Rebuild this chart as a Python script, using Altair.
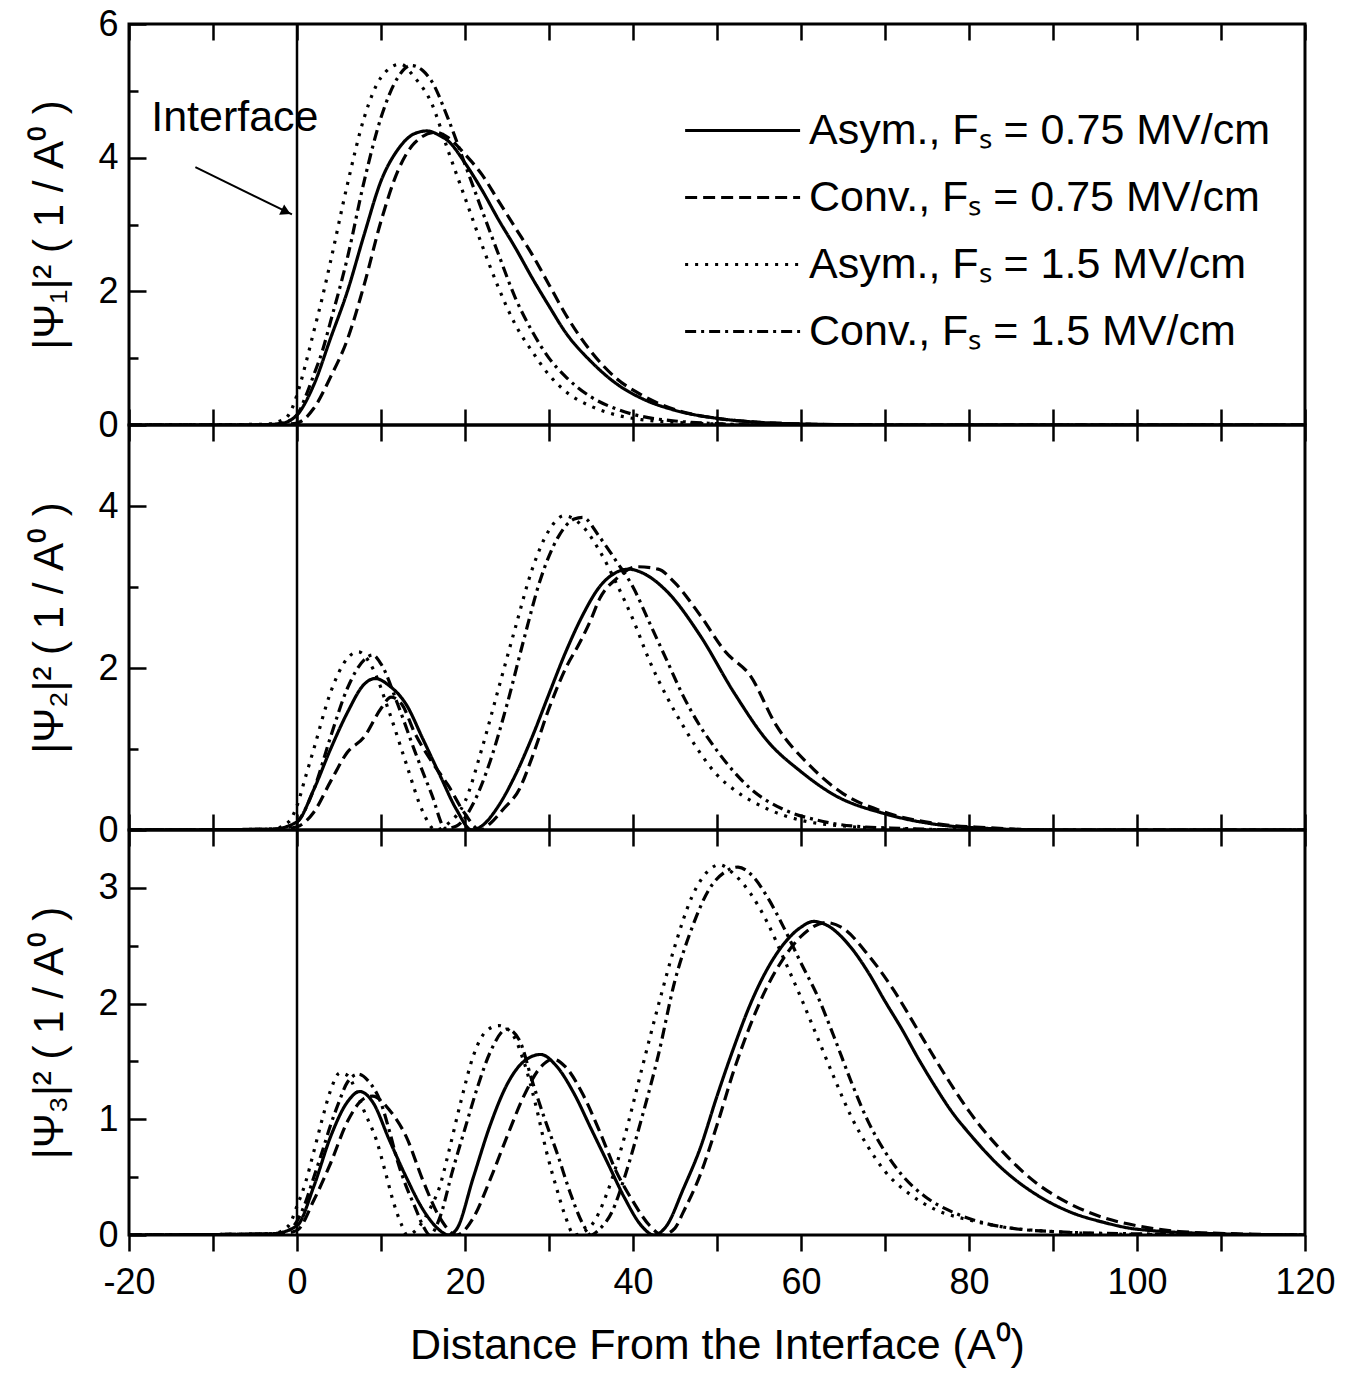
import altair as alt
import pandas as pd

FONT = "Liberation Sans, Arial, Helvetica, sans-serif"

X_DOMAIN = [-20, 120]
X_TICKS = [-20, -10, 0, 10, 20, 30, 40, 50, 60, 70, 80, 90, 100, 110, 120]

SERIES = ["Asym., Fₛ = 0.75 MV/cm", "Conv., Fₛ = 0.75 MV/cm",
          "Asym., Fₛ = 1.5 MV/cm", "Conv., Fₛ = 1.5 MV/cm"]
DASHES = [[1, 0], [12, 6], [3, 7], [11, 5, 3, 5]]

PANEL_YMAX = [6, 5, 3.5]
PANEL_MAJOR = [[0, 2, 4, 6], [0, 2, 4], [0, 1, 2, 3]]
PANEL_MINOR = [[1, 3, 5], [1, 3], [0.5, 1.5, 2.5]]
PANEL_TITLES = ["|Ψ₁|² ( 1 / A⁰ )", "|Ψ₂|² ( 1 / A⁰ )", "|Ψ₃|² ( 1 / A⁰ )"]
PANEL_HEIGHTS = [401, 405, 405]
X_TITLE = "Distance From the Interface (A⁰)"

INTERFACE_POS = [0]
INTERFACE_LABEL = ["Interface"]
INTERFACE_LABEL_X = [-7.4]
INTERFACE_LABEL_Y = [4.6]
ARROW_X = [-12.1]
ARROW_Y = [3.86]
ARROW_X2 = [-0.6]
ARROW_Y2 = [3.15]
ARROWHEAD_X = [-1.3]
ARROWHEAD_Y = [3.19]

# ---------------- Panel 1 : |Psi_1|^2 ----------------
P1_A075_X = [-20, -5, -2, 0, 2, 4, 6, 8, 10, 12, 14, 15.5, 17, 18, 20, 22, 24, 26, 28, 30, 32, 35, 38, 41, 45, 50, 55, 60, 70, 120]
P1_A075_Y = [0, 0, 0.02, 0.15, 0.6, 1.3, 2.0, 2.85, 3.65, 4.12, 4.36, 4.4, 4.33, 4.25, 3.92, 3.52, 3.07, 2.65, 2.2, 1.78, 1.38, 0.95, 0.62, 0.4, 0.22, 0.1, 0.04, 0.015, 0, 0]
P1_C075_X = [-20, -3, 0, 2, 4, 6, 8, 10, 12, 14, 16.5, 18, 20, 22, 24, 26, 28, 30, 32, 35, 38, 41, 45, 50, 55, 60, 70, 120]
P1_C075_Y = [0, 0, 0.03, 0.25, 0.72, 1.28, 2.1, 3.05, 3.8, 4.22, 4.38, 4.3, 4.05, 3.75, 3.35, 2.95, 2.55, 2.1, 1.65, 1.1, 0.7, 0.45, 0.23, 0.1, 0.04, 0.015, 0, 0]
P1_A15_X = [-20, -4, -2, -1, 0, 1, 2, 3, 4, 6, 8, 10, 12.3, 14, 16, 18, 20, 22, 24, 26, 28, 30, 32, 35, 38, 41, 45, 50, 55, 120]
P1_A15_Y = [0, 0.01, 0.06, 0.15, 0.45, 0.9, 1.4, 1.9, 2.45, 3.6, 4.6, 5.2, 5.4, 5.2, 4.82, 4.1, 3.4, 2.7, 2.05, 1.5, 1.1, 0.75, 0.5, 0.28, 0.15, 0.08, 0.04, 0.015, 0, 0]
P1_C15_X = [-20, -3, -2, 0, 1, 2, 3, 4, 6, 8, 10, 12, 13.6, 15, 16, 18, 20, 22, 24, 26, 28, 30, 32, 35, 38, 41, 45, 50, 55, 120]
P1_C15_Y = [0, 0, 0.02, 0.15, 0.42, 0.75, 1.1, 1.55, 2.5, 3.65, 4.6, 5.2, 5.38, 5.3, 5.15, 4.58, 3.9, 3.22, 2.55, 1.9, 1.4, 1.0, 0.72, 0.42, 0.24, 0.13, 0.06, 0.02, 0, 0]

# ---------------- Panel 2 : |Psi_2|^2 ----------------
P2_A075_X = [-20, -3, 0, 2, 4, 6, 8, 9.3, 11, 13, 15, 17, 19, 20.8, 22, 24, 26, 28, 30, 32, 34, 36, 38, 39.5, 41, 44, 48, 52, 56, 60, 64, 70, 76, 82, 90, 120]
P2_A075_Y = [0, 0.01, 0.1, 0.5, 1.0, 1.45, 1.8, 1.87, 1.78, 1.55, 1.12, 0.68, 0.25, 0.0, 0.05, 0.3, 0.68, 1.15, 1.68, 2.2, 2.65, 3.0, 3.18, 3.22, 3.18, 2.95, 2.4, 1.7, 1.1, 0.72, 0.43, 0.2, 0.07, 0.02, 0, 0]
P2_C075_X = [-20, -2, 0, 2, 4, 6, 8, 10, 11.2, 12.5, 14, 16, 18, 20, 21.8, 23, 24.5, 26.5, 28, 30, 32, 33.7, 35, 36, 38, 40.5, 43, 45, 48, 51, 54, 57, 61, 65, 70, 76, 82, 90, 120]
P2_C075_Y = [0, 0.01, 0.04, 0.22, 0.6, 0.96, 1.15, 1.5, 1.64, 1.55, 1.2, 0.85, 0.55, 0.2, 0.0, 0.08, 0.25, 0.51, 0.9, 1.5, 2.0, 2.32, 2.6, 2.85, 3.1, 3.25, 3.22, 3.05, 2.65, 2.2, 1.9, 1.3, 0.8, 0.45, 0.22, 0.08, 0.03, 0, 0]
P2_A15_X = [-20, -3, -1, 0, 1, 2, 4, 6, 7.3, 9, 11, 13, 15, 16.5, 18, 20, 22, 24, 26, 28, 30, 31.8, 34, 36, 38, 40, 42, 44, 46, 48, 50, 52, 56, 60, 65, 70, 80, 120]
P2_A15_Y = [0, 0.01, 0.1, 0.3, 0.65, 1.0, 1.7, 2.12, 2.2, 2.0, 1.45, 0.82, 0.22, 0.0, 0.08, 0.35, 1.0, 1.75, 2.5, 3.22, 3.7, 3.88, 3.75, 3.45, 3.05, 2.6, 2.08, 1.65, 1.28, 0.95, 0.68, 0.5, 0.26, 0.12, 0.05, 0.02, 0, 0]
P2_C15_X = [-20, -2, 0, 2, 4, 6, 8, 9, 10, 12, 14, 16, 17.7, 19, 21, 23, 25, 27, 29, 31, 33, 34, 36, 38, 40, 42, 44, 46, 48, 50, 52, 54, 58, 62, 66, 72, 80, 120]
P2_C15_Y = [0, 0.01, 0.1, 0.5, 1.15, 1.75, 2.1, 2.16, 2.05, 1.55, 0.98, 0.45, 0.02, 0.05, 0.33, 0.85, 1.55, 2.35, 3.1, 3.6, 3.84, 3.86, 3.62, 3.32, 3.0, 2.55, 2.1, 1.65, 1.28, 0.98, 0.72, 0.51, 0.25, 0.12, 0.05, 0.02, 0, 0]

# ---------------- Panel 3 : |Psi_3|^2 ----------------
P3_A075_X = [-20, -3, 0, 2, 4, 6, 7.5, 9, 11, 13, 15, 17, 18, 19, 21, 23, 25, 27, 29, 31, 33, 35, 37, 39, 41, 42.5, 44, 46, 48, 50, 52, 54, 56, 58, 60, 61.5, 63, 66, 68, 70, 72, 74, 76, 78, 80, 84, 88, 92, 96, 100, 110, 120]
P3_A075_Y = [0, 0.01, 0.08, 0.42, 0.85, 1.15, 1.24, 1.15, 0.82, 0.5, 0.22, 0.04, 0.0, 0.05, 0.5, 0.95, 1.3, 1.5, 1.56, 1.45, 1.22, 0.92, 0.62, 0.32, 0.08, 0.0, 0.08, 0.4, 0.75, 1.2, 1.62, 2.0, 2.3, 2.52, 2.66, 2.71, 2.68, 2.48, 2.27, 2.02, 1.78, 1.52, 1.28, 1.06, 0.88, 0.57, 0.35, 0.2, 0.11, 0.05, 0.01, 0]
P3_C075_X = [-20, -2, 0, 2, 4, 6, 8, 9, 11, 13, 15, 17, 19, 21, 23, 25, 27, 29, 30.5, 32, 34, 36, 38, 40, 42, 43.5, 45, 46, 48, 50, 52, 54, 56, 58, 60, 63, 65, 68, 71, 74, 77, 80, 84, 88, 92, 96, 100, 105, 112, 120]
P3_C075_Y = [0, 0.01, 0.04, 0.3, 0.62, 0.98, 1.18, 1.2, 1.08, 0.85, 0.47, 0.15, 0.0, 0.15, 0.48, 0.85, 1.2, 1.45, 1.52, 1.45, 1.22, 0.9, 0.55, 0.29, 0.08, 0.0, 0.06, 0.2, 0.52, 0.95, 1.42, 1.82, 2.15, 2.4, 2.58, 2.7, 2.65, 2.42, 2.12, 1.76, 1.4, 1.07, 0.72, 0.45, 0.27, 0.15, 0.08, 0.03, 0.01, 0]
P3_A15_X = [-20, -3, -1, 0, 1, 2, 3, 4, 5.1, 6, 7, 8, 9.5, 10.5, 11.5, 12.5, 13.1, 14, 15, 16, 17, 18, 19.5, 21, 22.5, 24, 25.5, 27, 28.5, 29.7, 31, 32, 33, 35, 37, 39, 41, 43, 45, 47, 49, 50.3, 52, 54, 56, 58, 60, 62, 64, 66, 68, 70, 73, 76, 80, 85, 90, 100, 120]
P3_A15_Y = [0, 0.01, 0.08, 0.25, 0.45, 0.72, 1.0, 1.25, 1.4, 1.38, 1.25, 1.07, 0.81, 0.55, 0.28, 0.08, 0.0, 0.03, 0.12, 0.25, 0.42, 0.7, 1.15, 1.55, 1.76, 1.81, 1.75, 1.5, 1.1, 0.72, 0.38, 0.15, 0.0, 0.08, 0.38, 0.85, 1.42, 1.98, 2.5, 2.92, 3.15, 3.2, 3.12, 2.95, 2.7, 2.38, 2.05, 1.7, 1.35, 1.02, 0.76, 0.55, 0.35, 0.22, 0.13, 0.06, 0.03, 0.005, 0]
P3_C15_X = [-20, -3, -1, 0, 1, 2, 3, 4, 5, 6, 7.3, 8.5, 10, 11, 12, 13, 14, 15, 15.8, 17, 18.5, 20, 21.5, 23, 25, 26.5, 28, 29.5, 31, 32.5, 34, 35, 36, 37.5, 39, 41, 43, 45, 47, 49, 51, 52.5, 54, 56, 58, 60, 62, 64, 66, 68, 70, 72, 75, 78, 82, 86, 90, 100, 120]
P3_C15_Y = [0, 0.01, 0.04, 0.12, 0.28, 0.5, 0.72, 0.95, 1.15, 1.32, 1.39, 1.33, 1.14, 0.9, 0.63, 0.42, 0.25, 0.08, 0.0, 0.15, 0.55, 0.92, 1.28, 1.58, 1.78, 1.68, 1.33, 1.0, 0.7, 0.37, 0.1, 0.0, 0.05, 0.2, 0.5, 1.0, 1.55, 2.2, 2.65, 2.98, 3.14, 3.18, 3.12, 2.92, 2.65, 2.35, 2.06, 1.7, 1.32, 0.98, 0.72, 0.52, 0.32, 0.2, 0.1, 0.05, 0.03, 0.01, 0]

X_LISTS = [[P1_A075_X, P1_C075_X, P1_A15_X, P1_C15_X],
           [P2_A075_X, P2_C075_X, P2_A15_X, P2_C15_X],
           [P3_A075_X, P3_C075_X, P3_A15_X, P3_C15_X]]
Y_LISTS = [[P1_A075_Y, P1_C075_Y, P1_A15_Y, P1_C15_Y],
           [P2_A075_Y, P2_C075_Y, P2_A15_Y, P2_C15_Y],
           [P3_A075_Y, P3_C075_Y, P3_A15_Y, P3_C15_Y]]


def make_df(i):
    rows = []
    for name, xs, ys in zip(SERIES, X_LISTS[i], Y_LISTS[i]):
        for xv, yv in zip(xs, ys):
            rows.append({"x": xv, "y": yv, "series": name})
    return pd.DataFrame(rows)


def x_axis_bottom(show_labels):
    kw = dict(orient="bottom", values=X_TICKS, tickSize=16, tickWidth=2.5, tickColor="black",
              domain=False, grid=False, labelFlush=False)
    if show_labels:
        kw.update(labels=True, labelExpr="datum.value % 20 == 0 ? '' + datum.value : ''",
                  labelFont=FONT, labelFontSize=36, labelColor="black", labelPadding=14,
                  labelOverlap=False,
                  titleFont=FONT, titleFontSize=43, titleFontWeight="normal",
                  titleColor="black", titlePadding=24)
    else:
        kw.update(labels=False)
    return alt.Axis(**kw)


def x_axis_top(inward):
    kw = dict(orient="top", values=X_TICKS, tickSize=16, tickWidth=2.5, tickColor="black",
              domain=False, grid=False, labels=False)
    if inward:
        kw["offset"] = -16
    return alt.Axis(**kw)


def y_major(i):
    return alt.Axis(orient="left", values=PANEL_MAJOR[i], tickSize=17, offset=-17, tickWidth=2.5,
                    tickColor="black", domain=False, grid=False,
                    labelExpr="'' + datum.value", labelFont=FONT, labelFontSize=36,
                    labelColor="black", labelPadding=11, labelOverlap=False,
                    titleFont=FONT, titleFontSize=42, titleFontWeight="normal",
                    titleColor="black", titlePadding=26)


def y_minor(i):
    return alt.Axis(orient="left", values=PANEL_MINOR[i], tickSize=9, offset=-9, tickWidth=2.5,
                    tickColor="black", domain=False, grid=False, labels=False)


def panel(i):
    xs = alt.Scale(domain=X_DOMAIN, nice=False, zero=False)
    ys = alt.Scale(domain=[0, PANEL_YMAX[i]], nice=False)
    df = make_df(i)

    if i == 0:
        dash = alt.StrokeDash(
            "series:N", scale=alt.Scale(domain=SERIES, range=DASHES),
            legend=alt.Legend(orient="none", legendX=549, legendY=85, title=None,
                              symbolType="M-1,0H7", symbolSize=826, symbolStrokeWidth=3,
                              symbolStrokeColor="black", labelFont=FONT, labelFontSize=43,
                              labelColor="black", labelOffset=88, labelLimit=900,
                              rowPadding=23))
    else:
        dash = alt.StrokeDash("series:N", scale=alt.Scale(domain=SERIES, range=DASHES),
                              legend=None)

    if i == 2:
        xenc = alt.X("x:Q", scale=xs, axis=x_axis_bottom(True), title=X_TITLE)
    else:
        xenc = alt.X("x:Q", scale=xs, axis=x_axis_bottom(False), title=None)

    curves = alt.Chart(df).mark_line(color="black", strokeWidth=3.2, interpolate="monotone",
                                     clip=True).encode(
        x=xenc,
        y=alt.Y("y:Q", scale=ys, axis=y_major(i), title=PANEL_TITLES[i]),
        strokeDash=dash,
    )

    rule_df = pd.DataFrame({"x": INTERFACE_POS, "y0": [0], "y1": [PANEL_YMAX[i]]})
    rule = alt.Chart(rule_df).mark_rule(color="black", strokeWidth=2.5).encode(
        x=alt.X("x:Q", scale=xs, axis=x_axis_top(i == 0), title=None),
        y=alt.Y("y0:Q", scale=ys, axis=y_minor(i), title=None),
        y2="y1:Q",
    )

    layers = [curves, rule]
    if i == 0:
        lab = alt.Chart(pd.DataFrame({"x": INTERFACE_LABEL_X, "y": INTERFACE_LABEL_Y,
                                      "t": INTERFACE_LABEL})).mark_text(
            font=FONT, fontSize=43, color="black", align="center", baseline="middle").encode(
            x=alt.X("x:Q", scale=xs, axis=None),
            y=alt.Y("y:Q", scale=ys, axis=None),
            text="t:N")
        arrow = alt.Chart(pd.DataFrame({"x": ARROW_X, "y": ARROW_Y, "x2": ARROW_X2,
                                        "y2": ARROW_Y2})).mark_rule(
            color="black", strokeWidth=2).encode(
            x=alt.X("x:Q", scale=xs, axis=None),
            y=alt.Y("y:Q", scale=ys, axis=None),
            x2="x2:Q", y2="y2:Q")
        head = alt.Chart(pd.DataFrame({"x": ARROWHEAD_X, "y": ARROWHEAD_Y})).mark_point(
            shape="triangle-right", angle=26, filled=True, size=130, color="black",
            opacity=1).encode(
            x=alt.X("x:Q", scale=xs, axis=None),
            y=alt.Y("y:Q", scale=ys, axis=None))
        layers += [lab, arrow, head]

    return alt.layer(*layers).resolve_axis(x="independent", y="independent").properties(
        width=1176, height=PANEL_HEIGHTS[i])


chart = alt.vconcat(panel(0), panel(1), panel(2), spacing=0, bounds="flush").properties(
    padding={"left": 27, "top": 4, "right": 10, "bottom": 5},
    background="white",
).configure(font=FONT).configure_view(stroke="black", strokeWidth=3)

chart.save("out.html", embed_options={"renderer": "svg", "actions": False})
